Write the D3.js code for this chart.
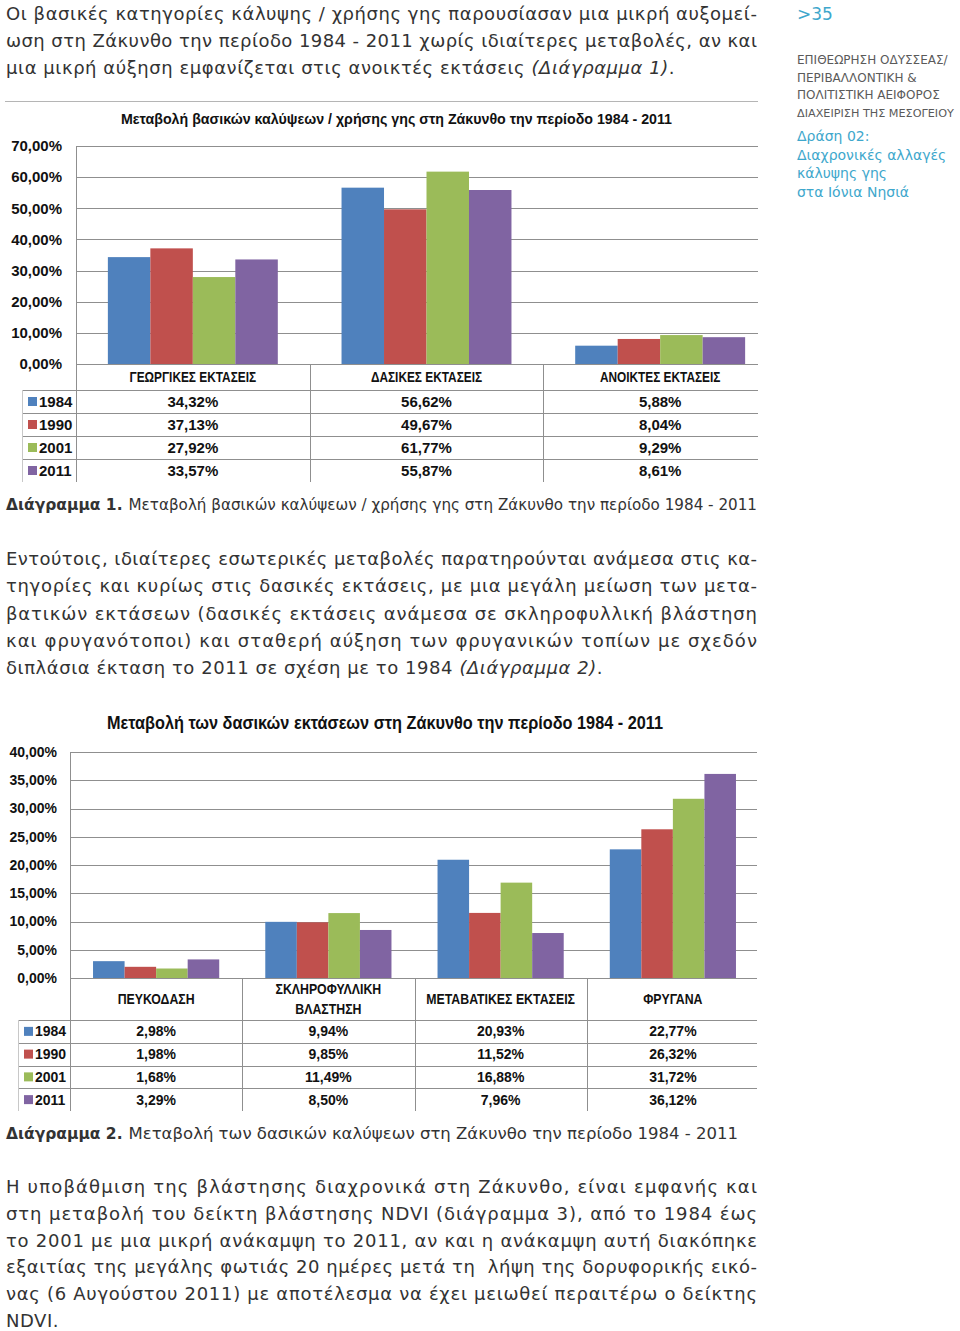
<!DOCTYPE html>
<html><head><meta charset="utf-8">
<script src="https://cdn.jsdelivr.net/npm/d3@7"></script>
<style>body{margin:0;background:#fff}svg{display:block}</style>
</head><body><svg id="c" width="960" height="1331"></svg>
<script>
// ---------- DATA ----------
const years = ["1984", "1990", "2001", "2011"];
const colors = ["#4f81bd", "#c0504d", "#9bbb59", "#8064a2"];

const cats1 = ["ΓΕΩΡΓΙΚΕΣ ΕΚΤΑΣΕΙΣ", "ΔΑΣΙΚΕΣ ΕΚΤΑΣΕΙΣ", "ΑΝΟΙΚΤΕΣ ΕΚΤΑΣΕΙΣ"];
const c1_1984 = [34.32, 56.62, 5.88];
const c1_1990 = [37.13, 49.67, 8.04];
const c1_2001 = [27.92, 61.77, 9.29];
const c1_2011 = [33.57, 55.87, 8.61];
const ticks1 = [0, 10, 20, 30, 40, 50, 60, 70];

const cats2 = ["ΠΕΥΚΟΔΑΣΗ", "ΣΚΛΗΡΟΦΥΛΛΙΚΗ|ΒΛΑΣΤΗΣΗ", "ΜΕΤΑΒΑΤΙΚΕΣ ΕΚΤΑΣΕΙΣ", "ΦΡΥΓΑΝΑ"];
const c2_1984 = [2.98, 9.94, 20.93, 22.77];
const c2_1990 = [1.98, 9.85, 11.52, 26.32];
const c2_2001 = [1.68, 11.49, 16.88, 31.72];
const c2_2011 = [3.29, 8.50, 7.96, 36.12];
const ticks2 = [0, 5, 10, 15, 20, 25, 30, 35, 40];

const title1 = "Μεταβολή βασικών καλύψεων /  χρήσης γης στη Ζάκυνθο την περίοδο 1984 - 2011";
const title2 = "Μεταβολή των δασικών εκτάσεων στη Ζάκυνθο την περίοδο 1984 - 2011";

// ---------- RENDER ----------
const svg = d3.select("#c");
svg.append("rect").attr("width", 960).attr("height", 1331).attr("fill", "#fff");
const fmt = v => d3.format(".2f")(v).replace(".", ",") + "%";
const GRID = "#8f8f8f";
const ARIAL = "'Liberation Sans', Arial, sans-serif";
const BODY = "'DejaVu Sans', Verdana, sans-serif";
const TXT = "#333";

function drawChart(o) {
  const g = svg.append("g");
  const clipId = "clip" + o.id;
  svg.append("defs").append("clipPath").attr("id", clipId)
    .append("rect").attr("x", 0).attr("y", o.yTop - 60).attr("width", o.clipR).attr("height", 500);
  const cg = g.append("g").attr("clip-path", `url(#${clipId})`);

  const y = d3.scaleLinear().domain([0, o.yMax]).range([o.yZero, o.yTop]);
  const x0 = d3.scaleBand().domain(o.cats).range([o.left, o.right]).padding(0);
  const x1 = d3.scaleBand().domain(years).range([0, x0.bandwidth()]).paddingInner(0).paddingOuter(o.outer);

  // gridlines
  cg.selectAll("line.grid").data(o.ticks).join("line")
    .attr("x1", o.left).attr("x2", o.clipR)
    .attr("y1", d => Math.round(y(d)) + 0.5).attr("y2", d => Math.round(y(d)) + 0.5)
    .attr("stroke", GRID).attr("stroke-width", 1);
  // tick labels
  g.selectAll("text.tick").data(o.ticks).join("text")
    .attr("x", o.tickX).attr("y", d => y(d)).attr("dy", "0.35em")
    .attr("text-anchor", "end").attr("font-family", ARIAL).attr("font-weight", "bold")
    .attr("font-size", o.tickSize).attr("fill", "#111")
    .text(d => fmt(d));

  // bars
  const series = o.series;
  years.forEach((yr, i) => {
    cg.selectAll(null).data(series[i]).join("rect")
      .attr("x", (d, j) => x0(o.cats[j]) + x1(yr))
      .attr("width", x1.bandwidth())
      .attr("y", d => y(d))
      .attr("height", d => o.yZero - y(d))
      .attr("fill", colors[i]);
  });

  // table
  const rowTop = o.headBottom;
  const rowH = o.rowH;
  const tableBottom = rowTop + rowH * years.length;
  g.append("line").attr("x1", o.left + 0.5).attr("x2", o.left + 0.5)
    .attr("y1", Math.round(y(o.yMax))).attr("y2", tableBottom).attr("stroke", GRID);
  cg.selectAll(null).data(o.cats.slice(1)).join("line")
    .attr("x1", d => Math.round(x0(d)) + 0.5).attr("x2", d => Math.round(x0(d)) + 0.5)
    .attr("y1", o.yZero).attr("y2", tableBottom).attr("stroke", GRID);
  g.append("line").attr("x1", o.legLeft + 0.5).attr("x2", o.legLeft + 0.5)
    .attr("y1", rowTop).attr("y2", tableBottom).attr("stroke", "#c8c8c8");
  cg.selectAll(null).data(d3.range(years.length)).join("line")
    .attr("x1", o.legLeft).attr("x2", o.clipR)
    .attr("y1", (d, i) => Math.round(rowTop + i * rowH) + 0.5)
    .attr("y2", (d, i) => Math.round(rowTop + i * rowH) + 0.5)
    .attr("stroke", GRID);

  // category labels
  o.cats.forEach(c => {
    const lines = c.split("|");
    const cx = x0(c) + x0.bandwidth() / 2;
    const mid = (o.yZero + o.headBottom) / 2;
    lines.forEach((ln, k) => {
      const t = cg.append("text")
        .attr("x", cx).attr("y", mid + (k - (lines.length - 1) / 2) * o.catLH).attr("dy", "0.35em")
        .attr("text-anchor", "middle").attr("font-family", ARIAL).attr("font-weight", "bold")
        .attr("font-size", o.catSize).attr("fill", "#111").text(ln);
      const w = t.node().getComputedTextLength();
      t.attr("textLength", w * o.squash).attr("lengthAdjust", "spacingAndGlyphs");
    });
  });

  // rows: legend + values
  years.forEach((yr, i) => {
    const cy = rowTop + i * rowH + rowH / 2;
    g.append("rect").attr("x", o.legLeft + 6).attr("y", cy - 4.5).attr("width", 9).attr("height", 9).attr("fill", colors[i]);
    g.append("text").attr("x", o.legLeft + 17).attr("y", cy).attr("dy", "0.35em")
      .attr("font-family", ARIAL).attr("font-weight", "bold").attr("font-size", o.valSize).attr("fill", "#111").text(yr);
    cg.selectAll(null).data(series[i]).join("text")
      .attr("x", (d, j) => x0(o.cats[j]) + x0.bandwidth() / 2)
      .attr("y", cy).attr("dy", "0.35em").attr("text-anchor", "middle")
      .attr("font-family", ARIAL).attr("font-weight", "bold").attr("font-size", o.valSize).attr("fill", "#111")
      .text(d => fmt(d));
  });

  // title
  g.append("text").attr("x", o.titleX).attr("y", o.titleY).attr("dy", "0.35em")
    .attr("font-family", ARIAL).attr("font-weight", "bold").attr("font-size", o.titleSize).attr("fill", "#111")
    .attr("textLength", o.titleW).attr("lengthAdjust", "spacingAndGlyphs").text(o.title);
}

// rule above chart 1
svg.append("line").attr("x1", 5).attr("x2", 758).attr("y1", 101.5).attr("y2", 101.5).attr("stroke", "#b5b5b5");

drawChart({
  id: 1, cats: cats1, series: [c1_1984, c1_1990, c1_2001, c1_2011], ticks: ticks1, yMax: 70,
  left: 76, right: 777, clipR: 758, yTop: 146, yZero: 364, outer: 0.75,
  tickX: 62, tickSize: 15, headBottom: 390, rowH: 23, legLeft: 22, valSize: 15,
  catSize: 15, catLH: 18, squash: 0.79,
  title: title1, titleX: 121, titleY: 119, titleSize: 15.5, titleW: 551
});

drawChart({
  id: 2, cats: cats2, series: [c2_1984, c2_1990, c2_2001, c2_2011], ticks: ticks2, yMax: 40,
  left: 70, right: 759, clipR: 757, yTop: 752, yZero: 978, outer: 0.73,
  tickX: 57, tickSize: 14, headBottom: 1020, rowH: 22.75, legLeft: 18, valSize: 14,
  catSize: 14, catLH: 20, squash: 0.88,
  title: title2, titleX: 107, titleY: 723, titleSize: 17.5, titleW: 556
});

// ---------- TEXT ----------
function para(lines, y0, lh, size) {
  lines.forEach((ln, i) => {
    const t = svg.append("text").attr("x", 6).attr("y", y0 + i * lh)
      .attr("font-family", BODY).attr("font-size", size).attr("fill", TXT)
      .attr("letter-spacing", ln.j ? null : 0.55)
      .attr("xml:space", "preserve");
    ln.parts.forEach(p => {
      t.append("tspan").attr("font-style", p.i ? "italic" : null).text(p.t);
    });
    if (ln.j) t.attr("textLength", 751).attr("lengthAdjust", "spacing");
  });
}
const P = (t, j = true) => ({ parts: [{ t }], j });

para([
  P("Οι βασικές κατηγορίες κάλυψης / χρήσης γης παρουσίασαν μια μικρή αυξομεί-"),
  P("ωση στη Ζάκυνθο την περίοδο 1984 - 2011 χωρίς ιδιαίτερες μεταβολές, αν και"),
  { parts: [{ t: "μια μικρή αύξηση εμφανίζεται στις ανοικτές εκτάσεις " }, { t: "(Διάγραμμα 1)", i: true }, { t: "." }], j: false }
], 20, 27.2, 18);

para([
  P("Εντούτοις, ιδιαίτερες εσωτερικές μεταβολές παρατηρούνται ανάμεσα στις κα-"),
  P("τηγορίες και κυρίως στις δασικές εκτάσεις, με μια μεγάλη μείωση των μετα-"),
  P("βατικών εκτάσεων (δασικές εκτάσεις ανάμεσα σε σκληροφυλλική βλάστηση"),
  P("και φρυγανότοποι) και σταθερή αύξηση των φρυγανικών τοπίων με σχεδόν"),
  { parts: [{ t: "διπλάσια έκταση το 2011 σε σχέση με το 1984 " }, { t: "(Διάγραμμα 2)", i: true }, { t: "." }], j: false }
], 565, 27.3, 18);

para([
  P("Η υποβάθμιση της βλάστησης διαχρονικά στη Ζάκυνθο, είναι εμφανής και"),
  P("στη μεταβολή του δείκτη βλάστησης NDVI (διάγραμμα 3), από το 1984 έως"),
  P("το 2001 με μια μικρή ανάκαμψη το 2011, αν και η ανάκαμψη αυτή διακόπηκε"),
  P("εξαιτίας της μεγάλης φωτιάς 20 ημέρες μετά τη  λήψη της δορυφορικής εικό-"),
  P("νας (6 Αυγούστου 2011) με αποτέλεσμα να έχει μειωθεί περαιτέρω ο δείκτης"),
  P("NDVI.", false)
], 1193, 26.8, 18);

// captions
function caption(num, rest, y, endX) {
  const b = svg.append("text").attr("x", 6).attr("y", y).attr("font-family", BODY)
    .attr("font-weight", "bold").attr("font-size", 15.5).attr("fill", TXT).text("Διάγραμμα " + num + ".");
  const bw = b.node().getComputedTextLength();
  const sx = 6 + bw + 6;
  svg.append("text").attr("x", sx).attr("y", y).attr("font-family", BODY)
    .attr("font-size", 15.5).attr("fill", TXT)
    .attr("textLength", endX - sx).attr("lengthAdjust", "spacingAndGlyphs").text(rest);
}
caption(1, "Μεταβολή βασικών καλύψεων / χρήσης γης στη Ζάκυνθο την περίοδο 1984 - 2011", 510, 757);
caption(2, "Μεταβολή των δασικών καλύψεων στη Ζάκυνθο την περίοδο 1984 - 2011", 1139, 738);

// sidebar
const BLUE = "#3ea7cc";
svg.append("text").attr("x", 797).attr("y", 20).attr("font-family", BODY).attr("font-size", 17).attr("fill", BLUE).text(">35");
["ΕΠΙΘΕΩΡΗΣΗ ΟΔΥΣΣΕΑΣ/", "ΠΕΡΙΒΑΛΛΟΝΤΙΚΗ &", "ΠΟΛΙΤΙΣΤΙΚΗ ΑΕΙΦΟΡΟΣ", "ΔΙΑΧΕΙΡΙΣΗ ΤΗΣ ΜΕΣΟΓΕΙΟΥ"].forEach((s, i) => {
  const t = svg.append("text").attr("x", 797).attr("y", 64 + i * 17.7).attr("font-family", BODY)
    .attr("font-size", 12).attr("fill", "#5a5a5a").text(s);
  const w = t.node().getComputedTextLength();
  if (w > 157) t.attr("font-size", 12 * 157 / w);
});
["Δράση 02:", "Διαχρονικές αλλαγές", "κάλυψης γης", "στα Ιόνια Νησιά"].forEach((s, i) => {
  svg.append("text").attr("x", 797).attr("y", 141 + i * 18.5).attr("font-family", BODY)
    .attr("font-size", 14).attr("fill", BLUE).text(s);
});
</script></body></html>
